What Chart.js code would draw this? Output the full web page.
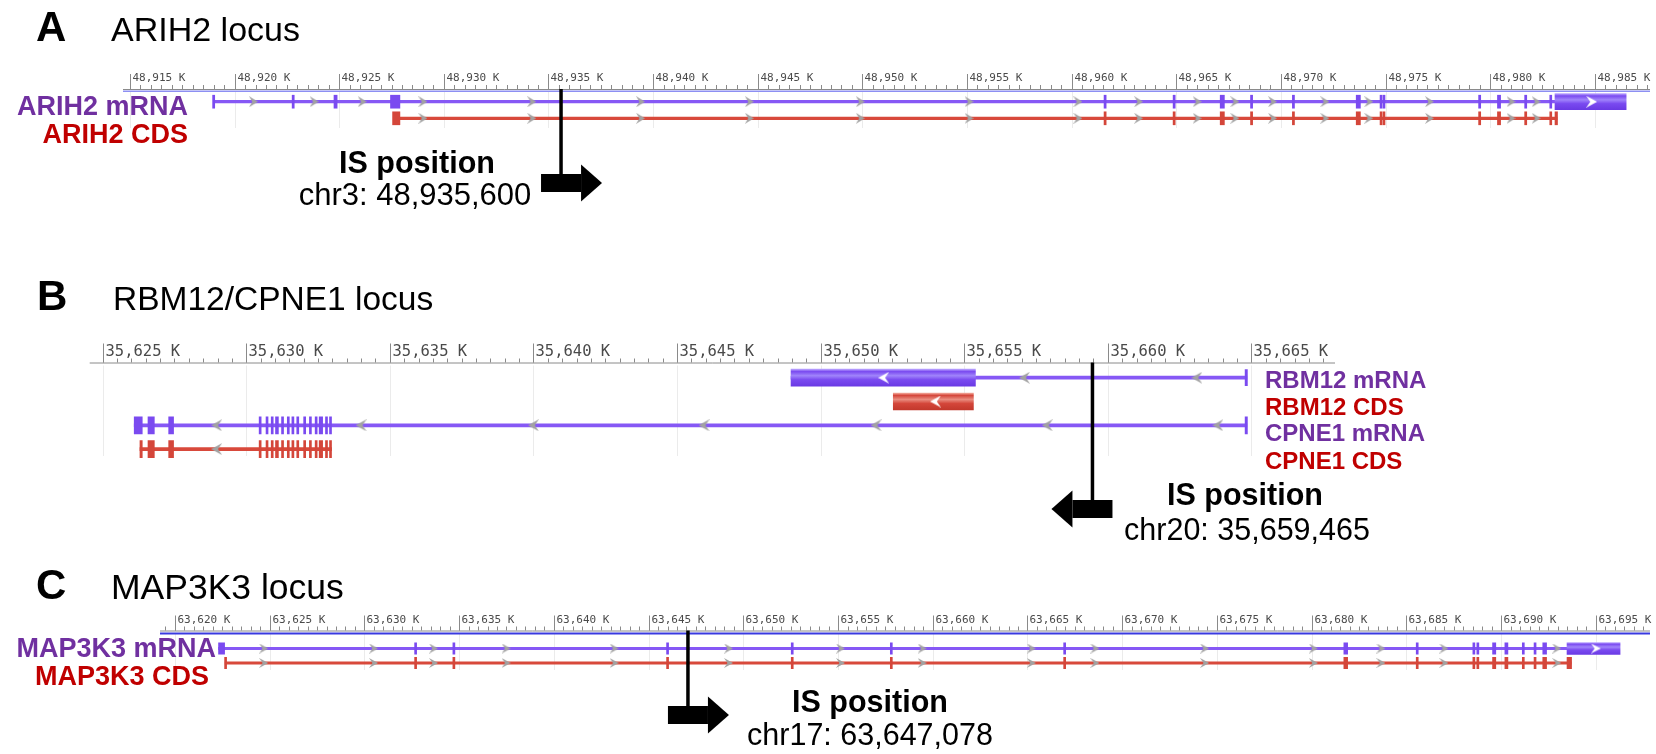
<!DOCTYPE html>
<html>
<head>
<meta charset="utf-8">
<script src="https://cdn.jsdelivr.net/npm/chart.js@4.4.1/dist/chart.umd.min.js"></script>
<style>
  html, body { margin: 0; background: #fff; }
  #fig { position: relative; width: 1656px; height: 754px; overflow: hidden; background: #fff; }
  #fig canvas { position: absolute; left: 0; top: 0; }
</style>
</head>
<body>
<div id="fig">
  <canvas id="chartA" width="1656" height="754"></canvas>
  <canvas id="chartB" width="1656" height="754"></canvas>
  <canvas id="chartC" width="1656" height="754"></canvas>
</div>
<script>
// ---------- Panel A: ARIH2 locus (chr3), positions in kb ----------
const arih2Ticks = [48915, 48920, 48925, 48930, 48935, 48940, 48945, 48950, 48955, 48960, 48965, 48970, 48975, 48980, 48985];
const arih2Transcript = [48919.0, 48983.1];
const arih2Exons = [[48918.95, 48919.05], [48922.75, 48922.85], [48924.75, 48924.9], [48927.45, 48927.9],
  [48961.55, 48961.65], [48964.85, 48964.95], [48967.1, 48967.3], [48968.55, 48968.65], [48970.55, 48970.65],
  [48973.6, 48973.8], [48974.74, 48974.8], [48974.88, 48974.94], [48979.45, 48979.55], [48980.35, 48980.5],
  [48981.65, 48981.75], [48982.85, 48982.92]];
const arih2Utr = [[48983.1, 48986.5]];
const arih2CdsSpan = [48927.6, 48983.2];
const arih2CdsExons = [[48927.55, 48927.9], [48961.55, 48961.65], [48964.85, 48964.95], [48967.1, 48967.3],
  [48968.55, 48968.65], [48970.55, 48970.65], [48973.6, 48973.8], [48974.74, 48974.8], [48974.88, 48974.94],
  [48979.45, 48979.55], [48980.35, 48980.5], [48981.65, 48981.75], [48982.85, 48982.92], [48983.1, 48983.22]];
const arih2Strand = [48920.9, 48923.8, 48926.1, 48929.0, 48934.2, 48939.4, 48944.6, 48949.9, 48955.1, 48960.3,
  48963.2, 48966.0, 48967.8, 48969.6, 48972.1, 48974.2, 48977.1, 48981.0, 48982.2];
const arih2CdsStrand = [48929.0, 48934.2, 48939.4, 48944.6, 48949.9, 48955.1, 48960.3, 48963.2, 48966.0, 48967.8,
  48969.6, 48972.1, 48974.2, 48977.1, 48981.0, 48982.2];
const arih2UtrStrand = [48984.85];
const arih2Site = 48935600;

// ---------- Panel B: RBM12 / CPNE1 locus (chr20), positions in kb ----------
const rbm12Ticks = [35625, 35630, 35635, 35640, 35645, 35650, 35655, 35660, 35665];
const rbm12Transcript = [35648.97, 35664.84];
const rbm12Exons = [[35664.78, 35664.86]];
const rbm12Utr = [[35648.97, 35655.39]];
const rbm12Cds = [[35652.53, 35655.32]];
const rbm12Strand = [35657.1, 35663.1];
const rbm12UtrStrand = [35652.2];
const rbm12CdsStrand = [35654.0];
const cpne1Transcript = [35626.1, 35664.84];
const cpne1Exons = [[35626.1, 35626.38], [35626.58, 35626.8], [35627.3, 35627.47], [35630.45, 35630.5],
  [35630.69, 35630.74], [35630.87, 35630.92], [35631.02, 35631.12], [35631.23, 35631.28], [35631.43, 35631.48],
  [35631.59, 35631.64], [35631.76, 35631.81], [35632.0, 35632.05], [35632.2, 35632.25], [35632.4, 35632.45],
  [35632.54, 35632.66], [35632.76, 35632.81], [35632.9, 35632.97], [35664.78, 35664.86]];
const cpne1CdsSpan = [35626.3, 35632.97];
const cpne1CdsExons = [[35626.3, 35626.38], [35626.58, 35626.8], [35627.3, 35627.47], [35630.45, 35630.5],
  [35630.69, 35630.74], [35630.87, 35630.92], [35631.02, 35631.12], [35631.23, 35631.28], [35631.43, 35631.48],
  [35631.59, 35631.64], [35631.76, 35631.81], [35632.0, 35632.05], [35632.2, 35632.25], [35632.4, 35632.45],
  [35632.54, 35632.66], [35632.76, 35632.81], [35632.9, 35632.97]];
const cpne1Strand = [35628.97, 35634.0, 35640.0, 35645.94, 35651.93, 35657.89, 35663.83];
const cpne1CdsStrand = [35628.97];
const rbm12Site = 35659465;

// ---------- Panel C: MAP3K3 locus (chr17), positions in kb ----------
const map3k3Ticks = [63620, 63625, 63630, 63635, 63640, 63645, 63650, 63655, 63660, 63665, 63670, 63675, 63680, 63685, 63690, 63695];
const map3k3Transcript = [63622.3, 63693.5];
const map3k3Exons = [[63622.3, 63622.62], [63632.65, 63632.72], [63634.67, 63634.74], [63645.95, 63646.02],
  [63652.53, 63652.6], [63657.76, 63657.83], [63666.91, 63666.98], [63681.7, 63681.9], [63685.52, 63685.58],
  [63688.51, 63688.57], [63688.72, 63688.78], [63689.55, 63689.72], [63690.2, 63690.36], [63691.12, 63691.18],
  [63691.74, 63691.8], [63692.2, 63692.4]];
const map3k3Utr = [[63693.48, 63696.28]];
const map3k3CdsSpan = [63622.65, 63693.7];
const map3k3CdsExons = [[63622.62, 63622.7], [63632.65, 63632.72], [63634.67, 63634.74], [63645.95, 63646.02],
  [63652.53, 63652.6], [63657.76, 63657.83], [63666.91, 63666.98], [63681.7, 63681.9], [63685.52, 63685.58],
  [63688.51, 63688.57], [63688.72, 63688.78], [63689.55, 63689.72], [63690.2, 63690.36], [63691.12, 63691.18],
  [63691.74, 63691.8], [63692.2, 63692.4], [63693.48, 63693.72]];
const map3k3Strand = [63624.68, 63630.48, 63633.65, 63637.48, 63643.18, 63649.22, 63655.13, 63659.44, 63665.2,
  63668.56, 63674.35, 63680.09, 63683.66, 63686.98, 63692.94];
const map3k3UtrStrand = [63695.0];
const map3k3Site = 63647078;

// ---------- styling ----------
const SANS = '"Liberation Sans", Arial, Helvetica, sans-serif';
const MONO = '"DejaVu Sans Mono", "Liberation Mono", monospace';
const MRNA = { line: '#8658f5', box: '#7a4af0',
  grad: [[0, '#b9a2ff'], [0.14, '#7a4af0'], [0.38, '#a084fb'], [0.62, '#7a4af0'], [1, '#6a3ae4']] };
const CDS = { line: '#d8493b', box: '#d4463a',
  grad: [[0, '#f3aa9c'], [0.14, '#d4463a'], [0.38, '#e98d80'], [0.62, '#d4463a'], [1, '#c2382c']] };
const MRNA_TEXT = '#7030a0';
const CDS_TEXT = '#c00000';
const STRAND = '#a2a2a2';

const fmtK = v => v.toLocaleString('en-US') + ' K';
const fmtBp = v => v.toLocaleString('en-US');

// strand chevrons used as point styles
function chevron(color, w, h, dir) {
  const c = document.createElement('canvas');
  c.width = w; c.height = h;
  const g = c.getContext('2d');
  if (dir < 0) { g.translate(w, 0); g.scale(-1, 1); }
  g.fillStyle = color;
  g.beginPath();
  g.moveTo(0, 0); g.lineTo(w, h / 2); g.lineTo(0, h); g.lineTo(w * 0.38, h / 2);
  g.closePath(); g.fill();
  return c;
}

// shaded fill for the wide feature boxes
function boxFill(stops, h) {
  return c => {
    const ch = c.chart;
    const ys = ch && ch.scales ? ch.scales.y : null;
    if (!c.raw || !ys) return stops[1][1];
    const y = ys.getPixelForValue(c.raw.y);
    if (!Number.isFinite(y)) return stops[1][1];
    const g = ch.ctx.createLinearGradient(0, y - h / 2, 0, y + h / 2);
    stops.forEach(s => g.addColorStop(s[0], s[1]));
    return g;
  };
}

const bar = (list, lane, thick, color, order, minLen) => ({
  type: 'bar', indexAxis: 'y', xAxisID: 'x', yAxisID: 'y',
  data: list.map(r => ({ x: [r[0], r[1]], y: lane })),
  barThickness: thick, backgroundColor: color, borderWidth: 0, borderSkipped: false,
  grouped: false, minBarLength: minLen || 0, order
});
const intron = (span, lane, w, color) => bar([span], lane, w, color, 6);
const exons = (list, lane, h, color) => bar(list, lane, h, color, 5, 2);
const boxes = (list, lane, h, grad) => bar(list, lane, h, boxFill(grad, h), 4, 2);
const marks = (list, lane, img, order) => ({
  type: 'scatter', xAxisID: 'x', yAxisID: 'y',
  data: list.map(v => ({ x: v, y: lane })),
  pointStyle: img, pointRadius: 5, order
});

function text(ctx, s, x, y, size, color, align, bold) {
  ctx.font = (bold ? 'bold ' : '') + size + 'px ' + SANS;
  ctx.fillStyle = color;
  ctx.textAlign = align;
  ctx.textBaseline = 'alphabetic';
  ctx.fillText(s, x, y);
}

function drawRuler(chart, L) {
  const ctx = chart.ctx, x = chart.scales.x, a = chart.chartArea;
  ctx.save();
  ctx.strokeStyle = '#8a8a8a';
  ctx.lineWidth = 1;
  ctx.beginPath();
  ctx.moveTo(a.left, L.baseline + 0.5); ctx.lineTo(a.right, L.baseline + 0.5);
  ctx.stroke();
  if (L.blue) {
    ctx.strokeStyle = L.blue.color; ctx.lineWidth = L.blue.width;
    ctx.beginPath();
    ctx.moveTo(a.left, L.baseline + L.blue.dy); ctx.lineTo(a.right, L.baseline + L.blue.dy);
    ctx.stroke();
  }
  ctx.strokeStyle = '#8a8a8a'; ctx.lineWidth = 1;
  for (let k = Math.ceil(x.min * 2); k <= Math.floor(x.max * 2); k++) {
    const p = Math.round(x.getPixelForValue(k / 2)) + 0.5;
    ctx.beginPath(); ctx.moveTo(p, L.baseline - L.minorH); ctx.lineTo(p, L.baseline); ctx.stroke();
  }
  ctx.font = L.labelSize + 'px ' + MONO;
  ctx.fillStyle = '#4a4a4a';
  ctx.textAlign = 'left';
  ctx.textBaseline = 'middle';
  L.ticks.forEach(v => {
    const p = Math.round(x.getPixelForValue(v)) + 0.5;
    ctx.beginPath(); ctx.moveTo(p, L.baseline - L.majorH); ctx.lineTo(p, L.baseline); ctx.stroke();
    ctx.fillText(fmtK(v), p + 2, L.labelY);
  });
  ctx.restore();
}

// insertion-site marker: drop line from the ruler, then a block arrow showing orientation
function drawSite(chart, L) {
  const ctx = chart.ctx, x = chart.scales.x;
  const px = x.getPixelForValue(L.site / 1000), cy = L.arrowY, d = L.dir;
  ctx.save();
  ctx.strokeStyle = '#000'; ctx.fillStyle = '#000'; ctx.lineWidth = 3.5;
  ctx.beginPath(); ctx.moveTo(px, L.baseline); ctx.lineTo(px, cy); ctx.stroke();
  const back = px - d * 20, neck = px + d * 20, tip = px + d * 41;
  ctx.fillRect(Math.min(back, neck), cy - 9, Math.abs(neck - back), 18);
  ctx.beginPath();
  ctx.moveTo(neck, cy - 18.5); ctx.lineTo(tip, cy); ctx.lineTo(neck, cy + 18.5);
  ctx.closePath(); ctx.fill();
  ctx.restore();
}

function locusChart(id, L, datasets) {
  const plugin = {
    id: 'locus' + id,
    beforeDatasetsDraw(chart) {
      const ctx = chart.ctx, x = chart.scales.x;
      ctx.save();
      ctx.strokeStyle = '#ebebeb'; ctx.lineWidth = 1;
      L.ticks.forEach(v => {
        const p = Math.round(x.getPixelForValue(v)) + 0.5;
        ctx.beginPath(); ctx.moveTo(p, L.baseline + 3); ctx.lineTo(p, L.gridBottom); ctx.stroke();
      });
      ctx.restore();
    },
    afterDatasetsDraw(chart) {
      drawRuler(chart, L);
      drawSite(chart, L);
      L.captions(chart.ctx);
    }
  };
  return new Chart(document.getElementById(id), {
    type: 'bar',
    data: { datasets },
    options: {
      responsive: false, animation: false, events: [],
      layout: { padding: { left: L.area[0], right: 1656 - L.area[1], top: L.area[2], bottom: 754 - L.area[3] } },
      scales: {
        x: { type: 'linear', min: L.range[0], max: L.range[1], offset: false, display: false },
        y: { type: 'linear', min: -1, max: L.lanes, reverse: true, offset: false, display: false }
      },
      plugins: { legend: { display: false }, tooltip: { enabled: false } }
    },
    plugins: [plugin]
  });
}

// ---------- Panel A ----------
const grayA = chevron(STRAND, 9, 11, 1), whiteA = chevron('#ffffff', 11, 12, 1);
locusChart('chartA', {
  area: [123, 1656, 85.1, 134.9], lanes: 2, range: [48914.667, 48987.64],
  ticks: arih2Ticks, baseline: 89, blue: { color: '#8d8ff2', width: 1.6, dy: 2.3 },
  majorH: 15, minorH: 4, labelSize: 11, labelY: 78, gridBottom: 128,
  site: arih2Site, dir: 1, arrowY: 183,
  captions(ctx) {
    text(ctx, 'A', 36, 41, 42, '#000', 'left', true);
    text(ctx, 'ARIH2 locus', 111, 40.5, 34, '#000', 'left', false);
    text(ctx, 'ARIH2 mRNA', 188, 114.5, 27, MRNA_TEXT, 'right', true);
    text(ctx, 'ARIH2 CDS', 188, 143, 27, CDS_TEXT, 'right', true);
    text(ctx, 'IS position', 417, 173, 30.5, '#000', 'center', true);
    text(ctx, 'chr3: ' + fmtBp(arih2Site), 415, 205, 31, '#000', 'center', false);
  }
}, [
  marks(arih2UtrStrand, 0, whiteA, 1),
  marks(arih2Strand, 0, grayA, 2),
  marks(arih2CdsStrand, 1, grayA, 2),
  boxes(arih2Utr, 0, 16, MRNA.grad),
  exons(arih2Exons, 0, 13, MRNA.box),
  exons(arih2CdsExons, 1, 13, CDS.box),
  intron(arih2Transcript, 0, 2.5, MRNA.line),
  intron(arih2CdsSpan, 1, 2.5, CDS.line)
]);

// ---------- Panel B ----------
const grayB = chevron(STRAND, 11, 12, -1), whiteB = chevron('#ffffff', 11, 12, -1);
locusChart('chartB', {
  area: [89.7, 1335, 353.9, 472.9], lanes: 4, range: [35624.55, 35667.91],
  ticks: rbm12Ticks, baseline: 362.5, blue: null,
  majorH: 19, minorH: 4, labelSize: 15.5, labelY: 352, gridBottom: 456,
  site: rbm12Site, dir: -1, arrowY: 509,
  captions(ctx) {
    text(ctx, 'B', 37, 310, 42, '#000', 'left', true);
    text(ctx, 'RBM12/CPNE1 locus', 113, 310, 33.5, '#000', 'left', false);
    text(ctx, 'RBM12 mRNA', 1265, 387.5, 24, MRNA_TEXT, 'left', true);
    text(ctx, 'RBM12 CDS', 1265, 415, 24, CDS_TEXT, 'left', true);
    text(ctx, 'CPNE1 mRNA', 1265, 441, 24, MRNA_TEXT, 'left', true);
    text(ctx, 'CPNE1 CDS', 1265, 469, 24, CDS_TEXT, 'left', true);
    text(ctx, 'IS position', 1245, 505, 30.5, '#000', 'center', true);
    text(ctx, 'chr20: ' + fmtBp(rbm12Site), 1247, 540, 30.5, '#000', 'center', false);
  }
}, [
  marks(rbm12UtrStrand, 0, whiteB, 1),
  marks(rbm12CdsStrand, 1, whiteB, 1),
  marks(rbm12Strand, 0, grayB, 2),
  marks(cpne1Strand, 2, grayB, 2),
  marks(cpne1CdsStrand, 3, grayB, 2),
  boxes(rbm12Utr, 0, 17, MRNA.grad),
  boxes(rbm12Cds, 1, 17, CDS.grad),
  exons(rbm12Exons, 0, 16, MRNA.box),
  exons(cpne1Exons, 2, 17, MRNA.box),
  exons(cpne1CdsExons, 3, 17, CDS.box),
  intron(rbm12Transcript, 0, 3, MRNA.line),
  intron(cpne1Transcript, 2, 3, MRNA.line),
  intron(cpne1CdsSpan, 3, 3, CDS.line)
]);

// ---------- Panel C ----------
const grayC = chevron(STRAND, 9, 10, 1), whiteC = chevron('#ffffff', 10, 10, 1);
locusChart('chartC', {
  area: [160, 1656, 634, 677.5], lanes: 2, range: [63619.21, 63697.86],
  ticks: map3k3Ticks, baseline: 630.5, blue: { color: '#3a3ae0', width: 2, dy: 3 },
  majorH: 15, minorH: 4, labelSize: 11, labelY: 620.5, gridBottom: 670,
  site: map3k3Site, dir: 1, arrowY: 715,
  captions(ctx) {
    text(ctx, 'C', 36, 599, 42, '#000', 'left', true);
    text(ctx, 'MAP3K3 locus', 111, 599, 35.5, '#000', 'left', false);
    text(ctx, 'MAP3K3 mRNA', 216, 656.5, 27, MRNA_TEXT, 'right', true);
    text(ctx, 'MAP3K3 CDS', 209, 685, 27, CDS_TEXT, 'right', true);
    text(ctx, 'IS position', 870, 711.5, 30.5, '#000', 'center', true);
    text(ctx, 'chr17: ' + fmtBp(map3k3Site), 870, 745, 30.5, '#000', 'center', false);
  }
}, [
  marks(map3k3UtrStrand, 0, whiteC, 1),
  marks(map3k3Strand, 0, grayC, 2),
  marks(map3k3Strand, 1, grayC, 2),
  boxes(map3k3Utr, 0, 12, MRNA.grad),
  exons(map3k3Exons, 0, 11.5, MRNA.box),
  exons(map3k3CdsExons, 1, 11.5, CDS.box),
  intron(map3k3Transcript, 0, 2.5, MRNA.line),
  intron(map3k3CdsSpan, 1, 2.5, CDS.line)
]);
</script>
</body>
</html>
